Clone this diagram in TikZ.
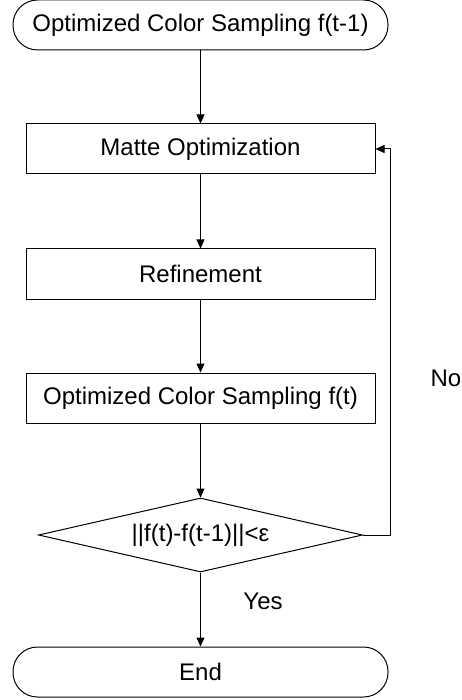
\documentclass[tikz,border=0pt]{standalone}
\usepackage{fontspec}
\setmainfont{Liberation Sans}
\usetikzlibrary{arrows.meta,shapes.geometric}
\begin{document}
\begin{tikzpicture}[x=1pt,y=-1pt,
  lbl/.style={font=\fontsize{24}{28}\selectfont, inner sep=0pt},
  proc/.style={lbl, draw, line width=1pt, minimum width=349pt, minimum height=50pt},
  term/.style={lbl, draw, line width=1pt, rounded corners=24.5pt, minimum width=375pt, minimum height=50pt},
  dec/.style={lbl, draw, line width=1pt, diamond, aspect=4.4, minimum width=324pt, minimum height=74pt},
  arr/.style={line width=1pt, -{Triangle[length=9pt,width=8pt]}},
  fline/.style={line width=1pt}]
\useasboundingbox (0,0) rectangle (462,700);
\node[term] (start) at (200.5,25) {Optimized Color Sampling f(t-1)};
\node[proc] (matte) at (200.5,149) {Matte Optimization};
\node[proc] (refine) at (200.5,274) {Refinement};
\node[proc] (ocs) at (200.5,398) {Optimized Color Sampling f(t)};
\node[dec] (cond) at (200.5,535) {||f(t)-f(t-1)||<ε};
\node[term] (end) at (200.5,672) {End};
\node[lbl] (yes) at (263,601) {Yes};
\node[lbl] (no) at (446,378) {No};
\coordinate (fb) at (390.7,535);
\draw[arr] (start) -- (matte);
\draw[arr] (matte) -- (refine);
\draw[arr] (refine) -- (ocs);
\draw[arr] (ocs) -- (cond);
\draw[arr] (cond) -- (end);
\draw[arr] (cond.east) -- (fb) |- (matte.east);
\end{tikzpicture}
\end{document}
